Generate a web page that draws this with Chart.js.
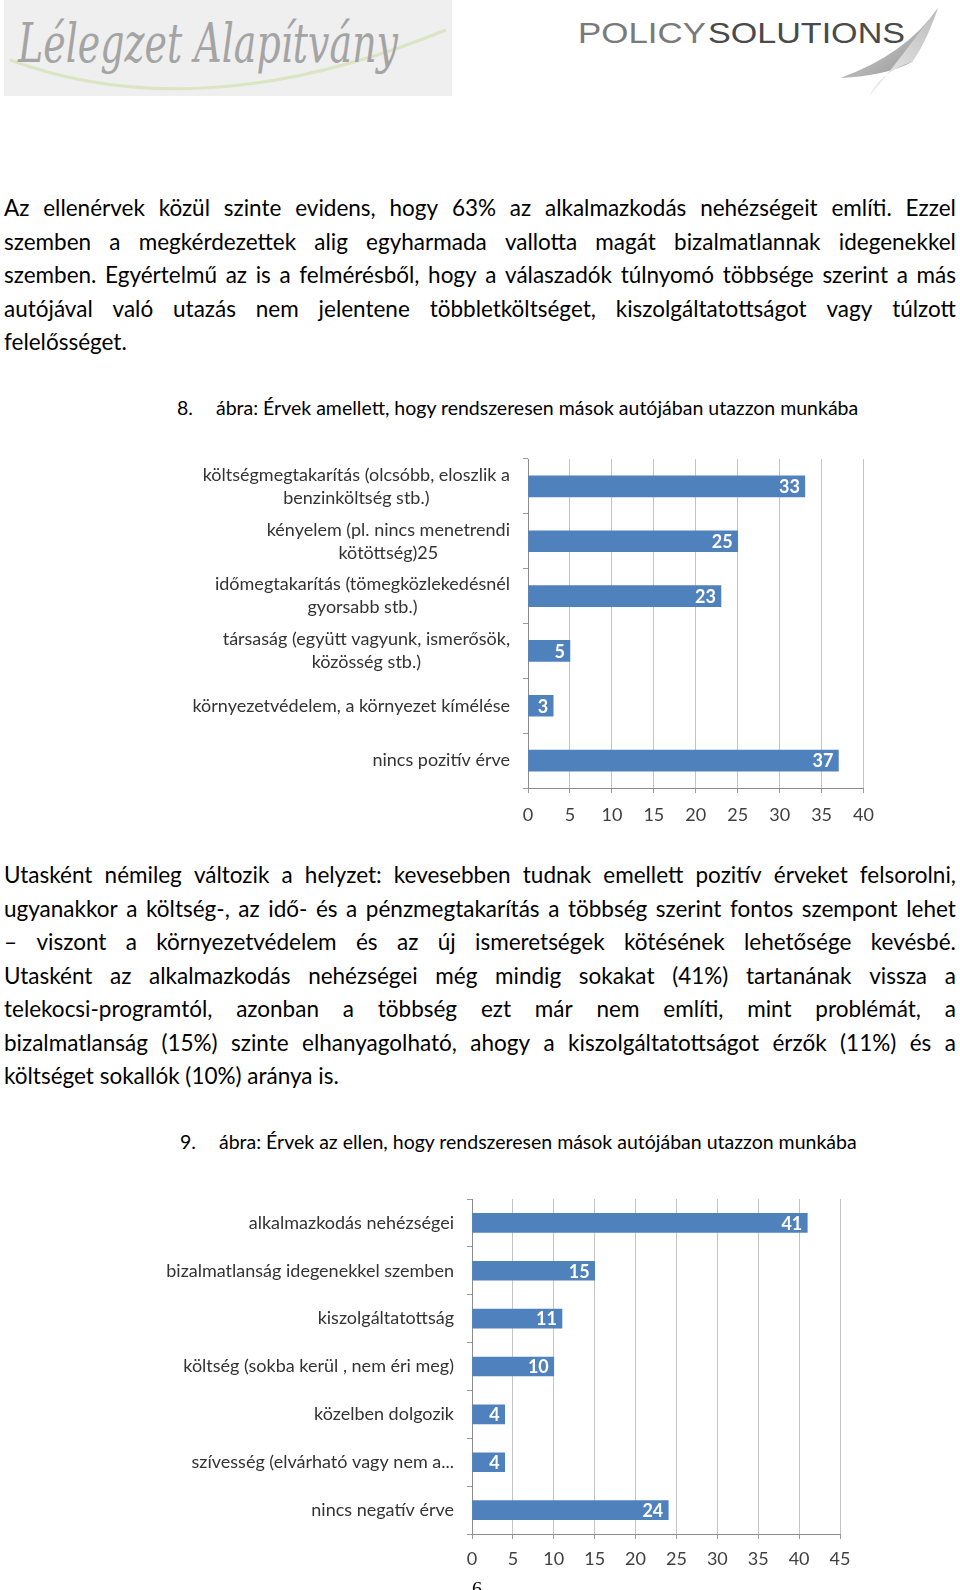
<!DOCTYPE html>
<html>
<head>
<meta charset="utf-8">
<script src="https://cdn.jsdelivr.net/npm/chart.js@4.4.1/dist/chart.umd.min.js"></script>
<style>
  body{margin:0;width:960px;height:1590px;background:#fff;position:relative;overflow:hidden;font-family:Lato,sans-serif;color:#000;}
  .para{position:absolute;left:4px;width:952px;font-size:22.5px;}
  .para .ln{height:33.5px;line-height:33.5px;display:flex;justify-content:space-between;white-space:nowrap;}
  .para .ln.last{justify-content:flex-start;}
  .cap{position:absolute;font-size:19.5px;line-height:22px;white-space:nowrap;}
  .cap span{display:inline-block;width:39px;}
  .box{position:absolute;}
  .pg{position:absolute;left:472px;top:1578px;font-size:20px;font-family:'Liberation Serif',serif;}
</style>
</head>
<body>
<svg class="box" style="left:0;top:0" width="960" height="110">
  <defs>
    <linearGradient id="sw1" x1="0" y1="0" x2="1" y2="1">
      <stop offset="0" stop-color="#e8e8e8"/><stop offset="1" stop-color="#8a8a8a"/>
    </linearGradient>
    <linearGradient id="sw2" x1="1" y1="0" x2="0" y2="1">
      <stop offset="0" stop-color="#bbbbbb"/><stop offset="1" stop-color="#f2f2f2"/>
    </linearGradient>
  </defs>
  <rect x="4" y="0" width="448" height="96" fill="#efefef"/>
  <path d="M10 60 Q 200 130 446 30" stroke="#dde4c4" stroke-width="3" fill="none"/>
  <text x="18" y="62" font-family="DejaVu Serif" font-style="italic" font-size="54" fill="#a4a4a4" textLength="380" lengthAdjust="spacingAndGlyphs">Lélegzet Alapítvány</text>
  <text x="578" y="43" font-family="Liberation Sans" font-size="29" fill="#7a7a7a" textLength="128" lengthAdjust="spacingAndGlyphs">POLICY</text>
  <text x="708" y="43" font-family="Liberation Sans" font-size="29" fill="#4a4a4a" textLength="197" lengthAdjust="spacingAndGlyphs">SOLUTIONS</text>
  <path d="M938 8 Q 905 55 840 78 Q 885 76 912 62 Z" fill="url(#sw1)"/>
  <path d="M912 62 Q 880 72 868 98 Q 885 78 938 8 Q 925 45 912 62 Z" fill="url(#sw2)"/>
</svg>

<div class="para" id="p1" style="top:191px"></div>
<div class="cap" style="left:177px;top:397px"><span>8.</span>ábra: Érvek amellett, hogy rendszeresen mások autójában utazzon munkába</div>
<div class="box" style="left:180px;top:445px;width:705px;height:385px"><canvas id="c1"></canvas></div>

<div class="para" id="p2" style="top:858px"></div>
<div class="cap" style="left:180px;top:1131px"><span>9.</span>ábra: Érvek az ellen, hogy rendszeresen mások autójában utazzon munkába</div>
<div class="box" style="left:150px;top:1185px;width:720px;height:395px"><canvas id="c2"></canvas></div>
<div class="pg">6</div>

<script>
// text of the page, one entry per printed line
const para1 = [
  'Az ellenérvek közül szinte evidens, hogy 63% az alkalmazkodás nehézségeit említi. Ezzel',
  'szemben a megkérdezettek alig egyharmada vallotta magát bizalmatlannak idegenekkel',
  'szemben. Egyértelmű az is a felmérésből, hogy a válaszadók túlnyomó többsége szerint a más',
  'autójával való utazás nem jelentene többletköltséget, kiszolgáltatottságot vagy túlzott',
  'felelősséget.'
];
const para2 = [
  'Utasként némileg változik a helyzet: kevesebben tudnak emellett pozitív érveket felsorolni,',
  'ugyanakkor a költség-, az idő- és a pénzmegtakarítás a többség szerint fontos szempont lehet',
  '– viszont a környezetvédelem és az új ismeretségek kötésének lehetősége kevésbé.',
  'Utasként az alkalmazkodás nehézségei még mindig sokakat (41%) tartanának vissza a',
  'telekocsi-programtól, azonban a többség ezt már nem említi, mint problémát, a',
  'bizalmatlanság (15%) szinte elhanyagolható, ahogy a kiszolgáltatottságot érzők (11%) és a',
  'költséget sokallók (10%) aránya is.'
];

// chart 8: pro arguments
const proLabels = [
  ['költségmegtakarítás (olcsóbb, eloszlik a', 'benzinköltség stb.)'],
  ['kényelem (pl. nincs menetrendi', 'kötöttség)25'],
  ['időmegtakarítás (tömegközlekedésnél', 'gyorsabb stb.)'],
  ['társaság (együtt vagyunk, ismerősök,', 'közösség stb.)'],
  'környezetvédelem, a környezet kímélése',
  'nincs pozitív érve'
];
const proValues = [33, 25, 23, 5, 3, 37];
const proMax = 40;

// chart 9: contra arguments
const conLabels = [
  'alkalmazkodás nehézségei',
  'bizalmatlanság idegenekkel szemben',
  'kiszolgáltatottság',
  'költség (sokba kerül , nem éri meg)',
  'közelben dolgozik',
  'szívesség (elvárható vagy nem a...',
  'nincs negatív érve'
];
const conValues = [41, 15, 11, 10, 4, 4, 24];
const conMax = 45;

function fillPara(id, lines){
  const el = document.getElementById(id);
  lines.forEach((txt, i)=>{
    const d = document.createElement('div');
    d.className = 'ln' + (i === lines.length-1 ? ' last' : '');
    if(i === lines.length-1){ d.textContent = txt; }
    else txt.split(' ').forEach(w=>{
      const s = document.createElement('span'); s.textContent = w; d.appendChild(s);
    });
    el.appendChild(d);
  });
}
fillPara('p1', para1);
fillPara('p2', para2);

const BLUE = '#4f81bd';

// category labels: block right-aligned, lines centred inside the block
const catLabels = {
  id: 'catLabels',
  afterDraw(chart, args, opts){
    const ctx = chart.ctx, y = chart.scales.y;
    ctx.save();
    ctx.font = opts.font;
    ctx.fillStyle = '#333';
    ctx.textAlign = 'center';
    ctx.textBaseline = 'middle';
    chart.data.labels.forEach((lab, i)=>{
      const lines = [].concat(lab);
      const w = Math.max(...lines.map(l=>ctx.measureText(l).width));
      const cx = chart.chartArea.left - opts.gap - w/2;
      const py = y.getPixelForTick(i);
      lines.forEach((l, j)=>ctx.fillText(l, cx, py + (j - (lines.length-1)/2) * opts.lineHeight));
    });
    ctx.restore();
  }
};

// white value labels at the end of the bars
const valueLabels = {
  id: 'valueLabels',
  afterDatasetsDraw(chart){
    const ctx = chart.ctx;
    const meta = chart.getDatasetMeta(0);
    ctx.save();
    ctx.font = 'bold 18px Lato';
    ctx.fillStyle = '#fff';
    ctx.textAlign = 'right';
    ctx.textBaseline = 'middle';
    meta.data.forEach((bar, i)=>{
      ctx.fillText(String(chart.data.datasets[0].data[i]), bar.x - 5, bar.y + 1);
    });
    ctx.restore();
  }
};

function makeChart(id, labels, values, max, yWidth, xHeight, padRight, thick, tickPad){
  return new Chart(document.getElementById(id), {
    type: 'bar',
    data: {labels: labels, datasets: [{data: values, backgroundColor: BLUE, barThickness: thick, categoryPercentage: 1}]},
    options: {
      indexAxis: 'y',
      responsive: true,
      maintainAspectRatio: false,
      animation: false,
      layout: {padding: {top: 14, right: padRight, left: 0, bottom: 0}},
      plugins: {
        legend: {display: false},
        tooltip: {enabled: false},
        catLabels: {font: '18px Lato', gap: 18, lineHeight: 23}
      },
      scales: {
        x: {
          min: 0, max: max,
          ticks: {stepSize: 5, color: '#404040', font: {family: 'Lato', size: 18}, padding: tickPad, maxRotation: 0},
          grid: {color: '#c4c4c4', tickLength: 5, tickColor: '#9a9a9a'},
          border: {color: '#8c8c8c'},
          afterFit: s => { s.height = xHeight; }
        },
        y: {
          ticks: {display: false},
          grid: {drawOnChartArea: false, tickLength: 5, color: '#9a9a9a', offset: true},
          border: {color: '#8c8c8c'},
          afterFit: s => { s.width = yWidth; }
        }
      }
    },
    plugins: [catLabels, valueLabels]
  });
}

makeChart('c1', proLabels, proValues, proMax, 348, 42, 12, 21, 11);
makeChart('c2', conLabels, conValues, conMax, 322, 46, 30, 19, 9);
</script>
</body>
</html>
